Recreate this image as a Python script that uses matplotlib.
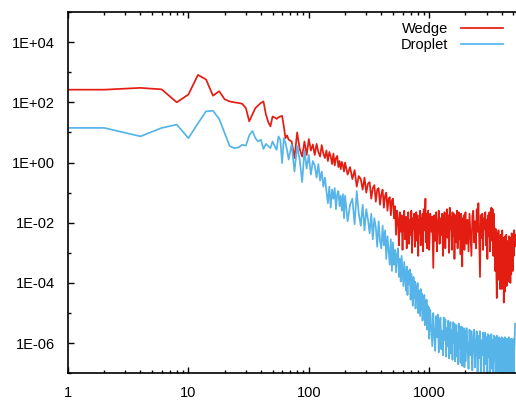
import numpy as np
import matplotlib
matplotlib.use('Agg')
from matplotlib import pyplot as plt
from matplotlib.ticker import FixedLocator, FuncFormatter, NullFormatter

plt.rcParams['font.family'] = ['Liberation Sans', 'DejaVu Sans']

# wavenumbers: the smooth low end, then the noisy tail
x_low = [1] + list(range(2, 70, 2))
x_tail = np.concatenate([
    np.arange(72, 200, 4),
    np.arange(200, 500, 10),
    np.arange(500, 1000, 10),
    np.arange(1000, 2000, 20),
    np.arange(2000, 5200, 40),
])

# log10 of the spectra
wedge_low = [2.42, 2.42, 2.48, 2.43, 2.00, 2.26, 2.91, 2.76, 2.22, 2.37,
             2.10, 2.03, 2.00, 1.98, 1.95, 1.81, 1.37, 1.60, 1.81, 1.90,
             1.98, 2.03, 1.60, 1.35, 1.20, 1.53, 1.50, 1.45, 1.50, 1.53,
             1.55, 1.20, 0.81, 0.90, 0.76]
droplet_low = [1.15, 1.15, 0.87, 1.15, 1.26, 0.81, 1.30, 1.70, 1.72, 1.45,
               0.98, 0.55, 0.48, 0.50, 0.59, 0.56, 0.90, 1.05, 0.81, 0.70,
               0.76, 0.45, 0.62, 0.55, 0.48, 0.70, 0.55, 0.42, 0.87, 0.75,
               -0.02, 0.81, 0.65, 0.40, 0.10]

wedge_tail = [
    # 72 .. 196
    0.70, 0.15, 1.00, 0.45, 0.20, 0.70, 0.25, 0.78, 0.40, 0.60,
    0.25, 0.62, 0.35, 0.20, 0.58, 0.30, 0.15, 0.40, 0.05, 0.35,
    0.20, -0.05, 0.30, -0.10, 0.15, 0.22, -0.15, 0.05, -0.22, 0.02,
    -0.10, -0.30,
    # 200 .. 490
    0.00, -0.40, -0.15, -0.55, -0.25, -0.80, -0.45, -0.55, -0.90, -0.50,
    -1.00, -0.70, -0.65, -1.20, -0.85, -0.75, -1.30, -0.90, -0.85, -1.40,
    -1.05, -0.90, -1.50, -1.10, -1.00, -1.60, -1.20, -1.15, -1.75, -1.25,
    # 500 .. 990
    -1.20, -1.85, -1.45, -2.40, -1.60, -1.90, -2.75, -1.65, -2.30, -1.75,
    -2.90, -1.95, -1.60, -2.55, -1.80, -2.85, -2.10, -1.65, -2.70, -1.90,
    -2.40, -1.60, -3.00, -1.85, -2.20, -1.70, -2.80, -2.00, -1.65, -2.60,
    -1.75, -3.10, -1.90, -2.35, -1.60, -2.75, -1.85, -2.50, -1.70, -2.95,
    -1.55, -2.25, -1.80, -1.20, -2.65, -1.70, -2.85, -1.95, -1.60, -2.45,
    # 1000 .. 1980
    -2.90, -1.70, -2.30, -1.80, -3.50, -1.75, -2.60, -1.65, -2.95, -2.00,
    -1.60, -2.70, -1.85, -2.40, -1.70, -3.10, -1.90, -1.65, -2.85, -2.05,
    -1.55, -2.50, -1.75, -3.00, -1.50, -2.20, -1.80, -2.90, -1.65, -2.45,
    -1.70, -3.20, -1.95, -1.75, -2.65, -1.60, -2.85, -2.00, -1.65, -2.55,
    -1.80, -3.05, -1.70, -2.30, -3.45, -1.85, -2.60, -1.75, -2.90, -1.90,
    # 2000 .. 5160
    -1.65, -2.70, -1.90, -2.95, -1.70, -2.40, -3.10, -1.80, -1.60, -2.65,
    -1.95, -2.85, -1.55, -2.30, -1.35, -2.60, -3.80, -1.75, -2.50, -1.70,
    -2.90, -1.85, -2.20, -1.65, -2.75, -1.90, -3.20, -1.75, -2.45, -1.65,
    -2.95, -1.80, -1.50, -2.60, -1.55, -3.10, -1.70, -2.40, -3.60, -2.20,
    -3.40, -4.50, -2.35, -3.00, -2.25, -3.90, -2.60, -4.20, -2.40, -3.30,
    -4.20, -2.25, -3.70, -2.50, -4.65, -2.80, -4.30, -2.45, -3.50, -2.40,
    -4.10, -2.70, -3.20, -2.60, -3.95, -2.45, -3.60, -2.55, -4.00, -2.50,
    -3.70, -2.35, -3.40, -2.60, -3.60, -2.45, -3.10, -2.25, -2.80, -2.40,
]
droplet_tail = [
    # 72 .. 196
    0.60, -0.30, 0.55, 0.10, -0.65, 0.40, -0.20, 0.25, -0.40, 0.05,
    -0.10, -0.50, -0.05, -0.60, -0.30, -0.80, -0.50, -0.95, -1.35, -0.80,
    -1.50, -0.90, -1.20, -0.85, -1.55, -1.05, -0.95, -1.45, -1.10, -1.60,
    -1.05, -1.85,
    # 200 .. 490
    -1.10, -1.95, -1.40, -1.20, -2.05, -0.95, -1.70, -2.10, -1.40, -2.25,
    -1.55, -1.90, -2.35, -1.70, -2.55, -1.85, -2.15, -2.80, -1.95, -2.60,
    -2.85, -2.10, -2.75, -2.25, -3.20, -2.45, -2.90, -3.40, -2.55, -3.60,
    # 500 .. 990
    -2.65, -3.40, -2.90, -3.65, -3.05, -2.85, -3.80, -3.20, -3.95, -3.10,
    -3.60, -4.10, -3.30, -3.75, -4.25, -3.45, -4.40, -3.60, -4.05, -3.55,
    -4.55, -3.70, -4.30, -4.75, -3.80, -4.50, -3.95, -4.85, -4.10, -4.60,
    -4.00, -5.00, -4.25, -4.70, -5.10, -4.20, -4.90, -4.35, -5.25, -4.45,
    -5.05, -4.40, -5.40, -4.60, -5.20, -4.55, -5.55, -4.75, -5.35, -4.80,
    # 1000 .. 1980
    -5.85, -4.90, -5.50, -6.10, -5.00, -5.70, -6.25, -5.10, -5.80, -5.05,
    -6.30, -5.40, -5.15, -6.20, -5.60, -6.40, -5.15, -5.90, -5.20, -6.45,
    -5.50, -6.10, -5.25, -6.50, -5.70, -5.30, -6.35, -5.55, -6.55, -5.30,
    -6.00, -5.35, -6.60, -5.80, -5.40, -6.45, -5.65, -6.70, -5.35, -6.15,
    -5.45, -6.65, -5.90, -5.45, -6.75, -5.75, -6.30, -5.50, -6.80, -5.60,
    # 2000 .. 5160
    -6.60, -5.50, -6.10, -6.85, -5.55, -6.40, -5.60, -6.90, -5.85, -5.55,
    -6.80, -6.00, -5.60, -6.95, -5.75, -6.50, -5.60, -7.00, -5.90, -6.40,
    -5.65, -7.05, -6.00, -5.65, -6.70, -5.80, -7.10, -5.70, -6.45, -5.75,
    -7.10, -6.10, -5.70, -6.85, -5.90, -7.15, -5.75, -6.55, -5.80, -7.20,
    -6.05, -5.75, -6.90, -5.85, -7.15, -5.80, -6.60, -7.20, -5.85, -6.35,
    -5.80, -7.10, -6.00, -5.85, -7.20, -6.20, -5.80, -6.95, -5.90, -7.20,
    -6.40, -5.85, -7.15, -5.95, -6.70, -5.80, -7.20, -6.15, -5.90, -7.10,
    -5.85, -6.80, -7.20, -5.95, -6.50, -5.85, -7.15, -6.30, -5.90, -5.35,
]

x = np.concatenate([x_low, x_tail])
wedge = 10.0 ** np.array(wedge_low + wedge_tail)
droplet = 10.0 ** np.array(droplet_low + droplet_tail)

fig = plt.figure(figsize=(5.16, 4.01), dpi=100)
ax = fig.add_axes([68 / 516, 27.7 / 401, 450 / 516, 361.3 / 401])

ax.plot(x, wedge, color='#e41d12', lw=1.25, label='Wedge')
ax.plot(x, droplet, color='#56b4e9', lw=1.25, label='Droplet')

ax.set_xscale('log')
ax.set_yscale('log')
ax.set_xlim(1, 5460)
ax.set_ylim(1e-7, 1e5)

ax.yaxis.set_major_locator(FixedLocator([10.0 ** k for k in range(-6, 5, 2)]))
ax.yaxis.set_minor_locator(FixedLocator([10.0 ** k for k in range(-7, 6, 2)]))
ax.yaxis.set_major_formatter(FuncFormatter(lambda v, p: '1E%+03d' % round(np.log10(v))))
ax.yaxis.set_minor_formatter(NullFormatter())
ax.xaxis.set_major_formatter(FuncFormatter(lambda v, p: '%d' % round(v)))
ax.xaxis.set_minor_formatter(NullFormatter())

ax.tick_params(which='both', direction='in', top=True, right=False,
               labelsize=10.5, pad=9.5, width=1.0, colors='black')
ax.tick_params(which='major', length=4)
ax.tick_params(which='minor', length=2.2)

for side in ['left', 'bottom', 'top']:
    ax.spines[side].set_linewidth(1.2)
ax.spines['right'].set_visible(False)

ax.legend(loc='upper right', bbox_to_anchor=(0.993, 1.005), frameon=False,
          markerfirst=False, fontsize=10.5, handlelength=2.9,
          handletextpad=0.85, labelspacing=0.12, borderpad=0.3)

fig.savefig('out.png', dpi=100)
